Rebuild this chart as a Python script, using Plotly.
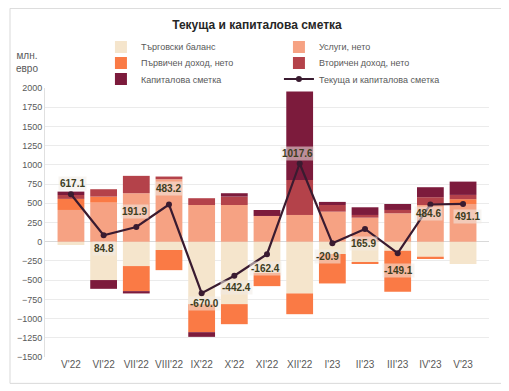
import plotly.graph_objects as go

categories = ["V'22", "VI'22", "VII'22", "VIII'22", "IX'22", "X'22", "XI'22",
              "XII'22", "I'23", "II'23", "III'23", "IV'23", "V'23"]
trade_balance = [-43, -499, -317, -108, -812, -812, -404, -673, -160, -274, -117, -195, -290]
services_net = [413, 509, 631, 813, 478, 478, 335, 348, 391, 313, 370, 478, 491]
primary_income = [144, 78, -326, -262, -365, -261, -174, -270, -383, -16, -535, -30, 62]
secondary_income = [51, 96, 226, 35, 88, 109, 0, 456, 87, 35, 43, 101, 56]
capital_account = [44, -114, -30, 0, -61, 44, 78, 1152, 40, 100, 78, 130, 173]
current_capital = [617.1, 84.8, 191.9, 483.2, -670.0, -442.4, -162.4, 1017.6,
                   -20.9, 165.9, -149.1, 484.6, 491.1]
y_ticks = list(range(-1500, 2001, 250))

# label offsets in pixels (style only)
label_yshift = [11, -13, 15, 16, -10, -12, -14, 10, -13, -15, -17, -9, -13]
label_xshift = [2, 0, -2, 0, 3, 2, -2, -2, -5, -2, 1, -2, 4]

FONT = "Liberation Sans Narrow, Arial Narrow, Liberation Sans, Arial"
GREY = "#595959"

fig = go.Figure()
bar_specs = [
    ("Търговски баланс", trade_balance, "#F5E5CC", "legend"),
    ("Услуги, нето", services_net, "#F6A283", "legend"),
    ("Първичен доход, нето", primary_income, "#FA7A45", "legend2"),
    ("Вторичен доход, нето", secondary_income, "#B4424A", "legend2"),
    ("Капиталова сметка", capital_account, "#7C1B3C", "legend3"),
]
for name, vals, color, lg in bar_specs:
    fig.add_trace(go.Bar(x=categories, y=vals, name=name, marker_color=color,
                         marker_line_width=0, legend=lg))

fig.add_trace(go.Scatter(x=categories, y=current_capital, mode="lines+markers",
                         name="Текуща и капиталова сметка",
                         line=dict(color="#3A1B30", width=2.2),
                         marker=dict(size=6, color="#3A1B30"), legend="legend3"))

for i, (c, v) in enumerate(zip(categories, current_capital)):
    fig.add_annotation(x=c, y=v, text=f"{v:.1f}", showarrow=False,
                       yshift=label_yshift[i], xshift=label_xshift[i],
                       font=dict(family=FONT, size=10, color="#3d3d1e", weight="bold"),
                       bgcolor="rgba(240,235,230,0.55)", borderpad=1)

fig.add_annotation(xref="paper", yref="paper", x=-0.04, y=1.097, text="млн.<br>евро",
                   showarrow=False, align="center", xanchor="center", yanchor="middle",
                   font=dict(family=FONT, size=10, color=GREY))

fig.add_shape(type="rect", xref="paper", yref="paper", x0=-0.0788, x1=1.029,
              y0=-0.098, y1=1.296, line=dict(color="#d9d9d9", width=1), layer="below")

leg_common = dict(orientation="h", xanchor="left", yanchor="middle", x=0.126,
                  entrywidth=133, entrywidthmode="pixels", bgcolor="rgba(0,0,0,0)",
                  font=dict(family=FONT, size=9, color=GREY), itemclick=False)
fig.update_layout(
    width=501, height=383,
    margin=dict(l=37, r=20, t=80, b=34.3, autoexpand=False),
    paper_bgcolor="white", plot_bgcolor="white",
    barmode="relative", bargap=0.18,
    title=dict(text="<b>Текуща и капиталова сметка</b>", x=0.497, xanchor="center",
               y=0.9556, yanchor="middle", font=dict(family=FONT, size=12, color="#262626")),
    legend=dict(y=1.1526, **leg_common),
    legend2=dict(y=1.093, **leg_common),
    legend3=dict(y=1.0335, **leg_common),
    xaxis=dict(tickfont=dict(family=FONT, size=10, color=GREY), showgrid=False,
               showline=False, ticks=""),
    yaxis=dict(range=[-1500, 2000], tickvals=y_ticks, gridcolor="#ebebeb",
               tickfont=dict(family=FONT, size=9, color=GREY), zeroline=True,
               zerolinecolor="#d9d9d9", zerolinewidth=1, showline=True,
               linecolor="#e0e0e0", ticks=""),
)

fig.write_html("out.html")
